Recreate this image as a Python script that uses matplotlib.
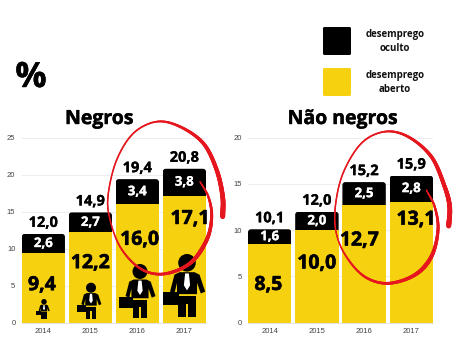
import numpy as np
import matplotlib
matplotlib.use("Agg")
import matplotlib.pyplot as plt
import matplotlib.patheffects as pe
from matplotlib.patches import FancyBboxPatch, Rectangle, Circle, Polygon
from matplotlib.collections import LineCollection

years = ["2014", "2015", "2016", "2017"]
open_neg = [9.4, 12.2, 16.0, 17.1]
hidden_neg = [2.6, 2.7, 3.4, 3.8]
total_neg = [12.0, 14.9, 19.4, 20.8]
open_non = [8.5, 10.0, 12.7, 13.1]
hidden_non = [1.6, 2.0, 2.5, 2.8]
total_non = [10.1, 12.0, 15.2, 15.9]
series_labels = ["desemprego\noculto", "desemprego\naberto"]

YEL = "#F6D110"
W, H = 457, 343
FONT = "Open Sans"
fig = plt.figure(figsize=(W / 100, H / 100), dpi=100, facecolor="white")


def br(v):
    return f"{v:.1f}".replace(".", ",")


def heavy(t, c="black", lw=0.5):
    t.set_path_effects([pe.withStroke(linewidth=lw, foreground=c)])
    return t


def panel(x0, x1, ymax, yticks, title, op, hid, tot, lab_frac, lab_dx, title_x):
    top, bottom = 137.7, 322.7
    ax = fig.add_axes([x0 / W, 1 - bottom / H, (x1 - x0) / W, (bottom - top) / H])
    xs = np.arange(4)
    ax.set_xlim(-0.46, 3.46)
    ax.set_ylim(0, ymax)
    ax.set_facecolor("none")
    ax.bar(xs, op, 0.92, color=YEL, zorder=3)
    blk = ax.bar(xs, hid, 0.92, bottom=op, color="black", zorder=3)
    ypx = (bottom - top) / ymax
    r = 3.0 / 47
    for b, x, t in zip(blk, xs, tot):
        clip = FancyBboxPatch((x - 0.46, 0), 0.92, t, boxstyle=f"round,pad=0,rounding_size={r}",
                              mutation_aspect=(3.0 / ypx) / r, transform=ax.transData)
        b.set_clip_path(clip)
    for i, x in enumerate(xs):
        heavy(ax.text(x + lab_dx[i], op[i] * lab_frac[i], br(op[i]), ha="center", va="center",
                      fontsize=14, fontweight="bold", family=FONT, color="black", zorder=5), lw=0.4)
        heavy(ax.text(x, op[i] + hid[i] / 2, br(hid[i]), ha="center", va="center",
                      fontsize=9.5, fontweight="bold", family=FONT, color="white", zorder=5), "white", 0.2)
        heavy(ax.annotate(br(tot[i]), (x, tot[i]), xytext=(0, 4), textcoords="offset pixels",
                          ha="center", va="bottom", fontsize=10.5, fontweight="bold", family=FONT,
                          color="black", zorder=5), lw=0.2)
    ax.set_yticks(yticks)
    ax.set_xticks(xs, years)
    ax.tick_params(length=0, labelsize=5.5, labelcolor="#444444", pad=4)
    for t in ax.get_xticklabels() + ax.get_yticklabels():
        t.set_family("Liberation Sans")
    ax.tick_params(axis="y", pad=4.5)
    ax.grid(axis="y", color="#EDEDED", lw=0.7, zorder=0)
    ax.set_axisbelow(True)
    for s in ax.spines.values():
        s.set_visible(False)
    ax.spines["bottom"].set_visible(True)
    ax.spines["bottom"].set_color("#DDDDDD")
    ax.spines["bottom"].set_linewidth(0.6)
    heavy(fig.text(title_x / W, 1 - 119 / H, title, ha="center", va="center", fontsize=14,
                   fontweight="bold", family=FONT, color="black"), lw=0.3)
    return ax


panel(21.7, 206, 25, range(0, 30, 5), "Negros", open_neg, hidden_neg, total_neg,
      [0.54, 0.66, 0.70, 0.82], [-0.03, 0.0, 0.05, 0.12], 99.5)
panel(248, 433, 20, range(0, 25, 5), "Não negros", open_non, hidden_non, total_non,
      [0.48, 0.64, 0.70, 0.85], [-0.03, 0.0, -0.1, 0.1], 343)

ov = fig.add_axes([0, 0, 1, 1], zorder=10)
ov.set_xlim(0, W)
ov.set_ylim(H, 0)
ov.axis("off")
ov.patch.set_alpha(0)

heavy(ov.text(31, 78, "%", ha="center", va="center", fontsize=25, fontweight="bold", family=FONT), lw=0.3)

for (y, c), lab in zip([(27, "black"), (68, YEL)], series_labels):
    ov.add_patch(FancyBboxPatch((323, y), 28, 28, boxstyle="round,pad=0,rounding_size=1.5",
                                fc=c, ec="none"))
    ov.text(395, y + 14.5, lab, ha="center", va="center", fontsize=7, fontweight="bold",
            family=FONT, linespacing=1.35, color="#111111")


def person(cx, top, bot):
    """Pictogram of a man with a briefcase; unit: s = icon height."""
    s = bot - top

    def P(pts, c="black"):
        ov.add_patch(Polygon([(cx + x * s, top + y * s) for x, y in pts], closed=True, fc=c, ec="none"))
    ov.add_patch(Circle((cx, top + 0.14 * s), 0.14 * s, fc="black", ec="none"))
    P([(-0.2, 0.33), (-0.12, 0.29), (0.12, 0.29), (0.2, 0.33), (0.29, 0.6), (0.22, 0.63), (0.16, 0.46),
       (0.16, 0.64), (-0.16, 0.64), (-0.16, 0.46), (-0.2, 0.63), (-0.27, 0.6)])
    P([(-0.14, 0.67), (0.14, 0.67), (0.14, 1), (0.02, 1), (0.02, 0.8), (-0.02, 0.8), (-0.02, 1), (-0.14, 1)])
    P([(-0.03, 0.31), (0.03, 0.31), (0.05, 0.5), (0, 0.58), (-0.05, 0.5)], "white")
    ov.add_patch(Rectangle((cx - 0.39 * s, top + 0.61 * s), 0.26 * s, 0.21 * s, fc="black", ec="none"))


person(44, 299, 318.5)
person(91, 282.7, 318.5)
person(140, 264, 317.5)
person(187, 254, 316.7)


def spline(pts, n=30):
    p = np.array(pts, float)
    p = np.vstack([2 * p[0] - p[1], p, 2 * p[-1] - p[-2]])
    out = []
    for i in range(1, len(p) - 2):
        t = np.linspace(0, 1, n, endpoint=False)[:, None]
        a, b, c, d = p[i - 1], p[i], p[i + 1], p[i + 2]
        out.append(0.5 * (2 * b + (c - a) * t + (2 * a - 5 * b + 4 * c - d) * t ** 2
                          + (3 * b - a - 3 * c + d) * t ** 3))
    return np.vstack(out)


def scrawl(pts, ox, oy):
    q = spline([(ox + x / 3, oy + y / 3) for x, y in pts])
    u = np.linspace(0, 1, len(q))
    w = np.interp(u, [0, 0.06, 0.2, 0.3, 0.45, 0.7, 0.85, 1], [1.0, 1.6, 3.0, 2.0, 1.0, 1.2, 2.8, 3.6])
    segs = np.stack([q[:-1], q[1:]], axis=1)
    ov.add_collection(LineCollection(segs, linewidths=w[:-1], colors="#E5161D", capstyle="round"))


scrawl([(600, 245), (625, 290), (635, 350), (620, 420), (570, 490), (490, 522), (420, 505), (360, 440),
        (328, 350), (325, 280), (350, 180), (400, 100), (470, 65), (540, 80), (610, 130), (650, 210),
        (668, 290), (668, 352)], 0, 100)
scrawl([(595, 270), (620, 320), (630, 390), (610, 470), (560, 525), (480, 550), (410, 530), (355, 470),
        (325, 400), (322, 320), (345, 220), (400, 130), (470, 95), (540, 110), (610, 170), (650, 260),
        (665, 320), (662, 380)], 228, 100)

fig.savefig("out.png", dpi=100)
